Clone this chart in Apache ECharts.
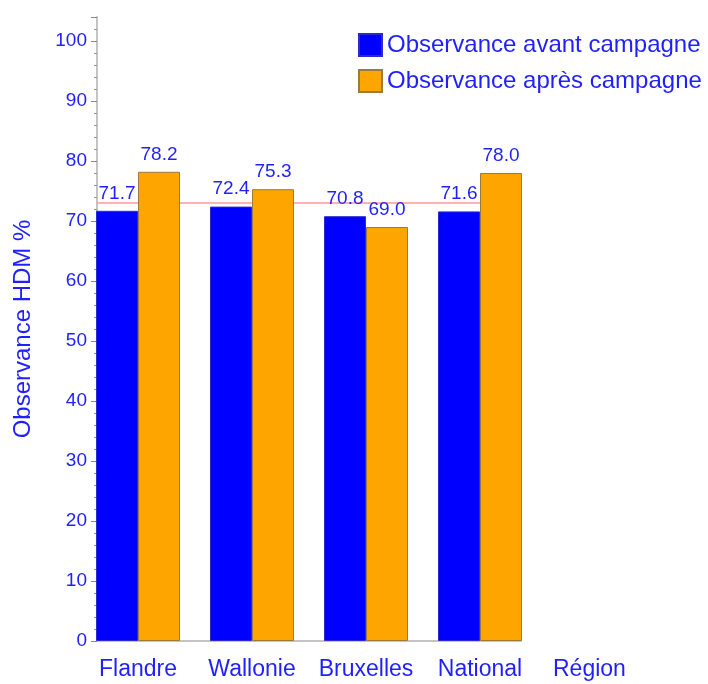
<!DOCTYPE html>
<html>
<head>
<meta charset="utf-8">
<script src="https://cdn.jsdelivr.net/npm/echarts@6/dist/echarts.min.js"></script>
<style>
  html, body { margin: 0; padding: 0; background: #fff; }
  #chart { width: 708px; height: 684px; }
</style>
</head>
<body>
<div id="chart"></div>
<script>
const regions = ['Flandre', 'Wallonie', 'Bruxelles', 'National'];
const avant = [71.7, 72.4, 70.8, 71.6];
const apres = [78.2, 75.3, 69.0, 78.0];
const refLine = 73;
const seriesNames = ['Observance avant campagne', 'Observance après campagne'];

const txt = '#1f1fff';
const font = 'Liberation Sans';

const chart = echarts.init(document.getElementById('chart'), null, { renderer: 'canvas' });

const valueLabel = {
    show: true,
    position: 'top',
    distance: 8,
    color: txt,
    fontFamily: font,
    fontSize: 19,
    formatter: p => p.value.toFixed(1)
};

const option = {
    animation: false,
    backgroundColor: '#fff',
    textStyle: { fontFamily: font },
    legend: {
        orient: 'vertical',
        left: 353,
        top: 28,
        itemWidth: 23,
        itemHeight: 22,
        itemGap: 12,
        icon: 'rect',
        data: seriesNames,
        textStyle: { color: txt, fontSize: 24, fontFamily: font }
    },
    grid: [
        // bars: bands centred on the blue/orange boundary
        { left: 81, width: 456, top: 17, bottom: 43 },
        // axes frame
        { left: 97, width: 424, top: 17, bottom: 43 }
    ],
    xAxis: [
        {
            gridIndex: 0,
            type: 'category',
            data: regions,
            axisLine: { show: false },
            axisTick: { show: false },
            axisLabel: { interval: 0, color: txt, fontSize: 23, fontFamily: font, margin: 17 }
        },
        {
            gridIndex: 1,
            type: 'category',
            data: regions,
            axisLine: { lineStyle: { color: '#c4c4c4', width: 2 } },
            axisTick: { show: false },
            axisLabel: { show: false },
            name: 'Région',
            nameLocation: 'end',
            nameGap: 32,
            nameTextStyle: { color: txt, fontSize: 23, fontFamily: font, verticalAlign: 'top', padding: [17, 0, 0, 0] }
        }
    ],
    yAxis: [
        {
            gridIndex: 0,
            type: 'value',
            min: 0,
            max: 104,
            show: false
        },
        {
            gridIndex: 1,
            type: 'value',
            min: 0,
            max: 104,
            interval: 10,
            axisLine: { show: true, lineStyle: { color: '#c4c4c4', width: 2 } },
            axisTick: { show: true, length: 6, lineStyle: { color: '#888' } },
            minorTick: { show: true, splitNumber: 5, length: 3, lineStyle: { color: '#999' } },
            splitLine: { show: false },
            axisLabel: {
                color: txt,
                fontSize: 19,
                fontFamily: font,
                margin: 10,
                formatter: v => (v % 10 === 0 ? String(v) : '')
            },
            name: 'Observance HDM %',
            nameLocation: 'middle',
            nameGap: 62,
            nameTextStyle: { color: txt, fontSize: 24, fontFamily: font }
        }
    ],
    series: [
        {
            name: seriesNames[0],
            type: 'bar',
            xAxisIndex: 0,
            yAxisIndex: 0,
            data: avant,
            barWidth: 42,
            barGap: '0%',
            itemStyle: { color: '#0000ff', borderColor: '#2a2ad0', borderWidth: 1 },
            label: valueLabel,
            z: 3
        },
        {
            name: seriesNames[1],
            type: 'bar',
            xAxisIndex: 0,
            yAxisIndex: 0,
            data: apres,
            barWidth: 42,
            barGap: '0%',
            itemStyle: { color: '#ffa500', borderColor: '#9c7a3c', borderWidth: 1 },
            label: valueLabel,
            z: 3
        },
        {
            name: 'ref',
            type: 'line',
            xAxisIndex: 1,
            yAxisIndex: 1,
            data: regions.map(() => '-'),
            symbol: 'none',
            color: '#ff9a9a',
            markLine: {
                silent: true,
                z: 1,
                symbol: ['none', 'none'],
                label: { show: false },
                emphasis: { disabled: true },
                lineStyle: { color: '#ff9a9a', width: 1.5, type: 'solid', opacity: 1 },
                data: [{ yAxis: refLine }]
            }
        }
    ]
};

chart.setOption(option);
</script>
</body>
</html>
